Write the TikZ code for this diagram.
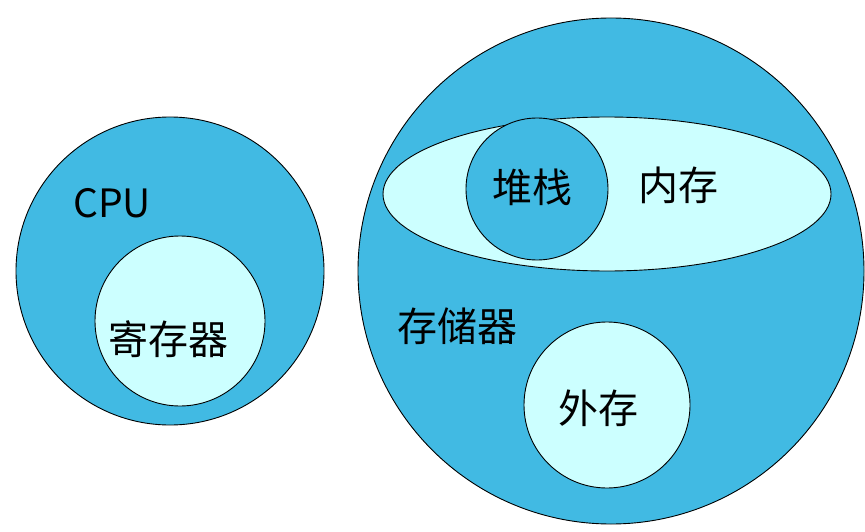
\documentclass[tikz,border=0pt]{standalone}
\usepackage{fontspec}
\setmainfont{Noto Sans CJK SC}
\usetikzlibrary{shapes.geometric}
\definecolor{darkb}{HTML}{41BAE3}
\definecolor{lightb}{HTML}{CCFFFF}
\begin{document}
\begin{tikzpicture}[x=1pt,y=-1pt,
  dark/.style={draw=black,line width=0.9pt,fill=darkb},
  light/.style={draw=black,line width=0.9pt,fill=lightb},
  lbl/.style={font=\fontsize{40}{44}\selectfont,text=black,inner sep=0pt}]
\useasboundingbox (0,0) rectangle (865,532);
% left
\node[dark,circle,minimum size=308pt,inner sep=0pt] (cpu) at (170,271) {};
\node[light,circle,minimum size=170pt,inner sep=0pt] (reg) at (180,321) {};
\node[lbl,font=\fontsize{39}{43}\selectfont] (cputxt) at (112,203) {CPU};
\node[lbl] (regtxt) at (168,339) {寄存器};
% right
\node[dark,circle,minimum size=506pt,inner sep=0pt] (store) at (611,271) {};
\node[light,ellipse,minimum width=448pt,minimum height=154pt,inner sep=0pt] (mem) at (607,194) {};
\node[dark,circle,minimum size=142pt,inner sep=0pt] (stack) at (537,189) {};
\node[light,circle,minimum size=166pt,inner sep=0pt] (ext) at (607,405) {};
\node[lbl] (stacktxt) at (532,187) {堆栈};
\node[lbl] (memtxt) at (678,185) {内存};
\node[lbl] (storetxt) at (457,326) {存储器};
\node[lbl] (exttxt) at (598,408) {外存};
\end{tikzpicture}
\end{document}
